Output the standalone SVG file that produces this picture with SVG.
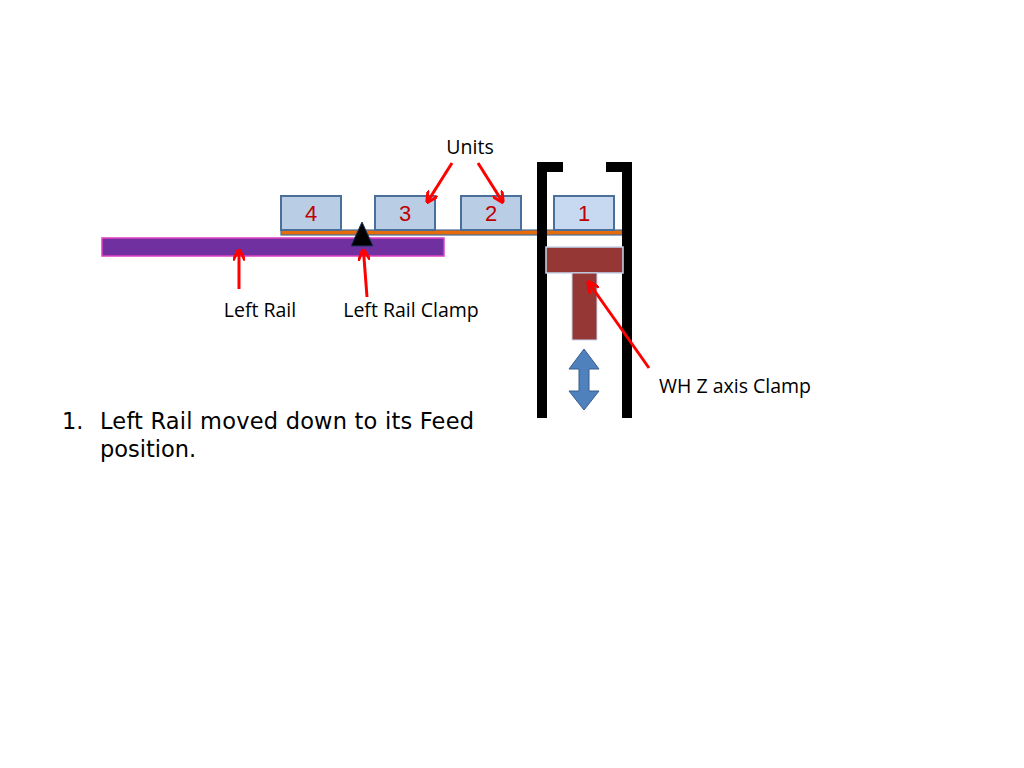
<svg xmlns="http://www.w3.org/2000/svg" width="1024" height="768" viewBox="0 0 1024 768">
<defs>
<style>
.lbl{font-family:"Open Sans","Liberation Sans",sans-serif;font-size:19.5px;fill:#000}
.num{font-family:"Liberation Sans",sans-serif;font-size:22px;fill:#c00000;text-anchor:middle}
.unit{fill:#b9cde5;stroke:#4a6f9a;stroke-width:2}
.red{stroke:#ff0000;stroke-width:3;fill:none;marker-end:url(#ah)}
.body{font-family:"DejaVu Sans",Verdana,sans-serif;font-size:22.5px;fill:#000}
</style>
<marker id="ah" viewBox="0 0 10 10" refX="8" refY="5" markerWidth="4" markerHeight="4" orient="auto" markerUnits="strokeWidth">
<path d="M0,0 L10,5 L0,10" fill="none" stroke="#ff0000" stroke-width="2.5"/>
</marker>
</defs>
<rect width="1024" height="768" fill="#fff"/>
<g id="left-rail"><rect x="102" y="238" width="342" height="18" fill="#7030a0" stroke="#e040c0" stroke-width="1.5"/></g>
<g id="carrier"><rect x="281" y="230" width="342" height="5" fill="#e46c0a" stroke="#4a6f9a" stroke-width="1.2"/></g>
<g id="unit4"><rect class="unit" x="281" y="196" width="60" height="34"/><text class="num" x="311" y="221">4</text></g>
<g id="unit3"><rect class="unit" x="375" y="196" width="60" height="34"/><text class="num" x="405" y="221">3</text></g>
<g id="unit2"><rect class="unit" x="461" y="196" width="60" height="34"/><text class="num" x="491" y="221">2</text></g>
<g id="unit1"><rect class="unit" x="554" y="196" width="60" height="34" style="fill:#c6d9f1"/><text class="num" x="584" y="221">1</text></g>
<g id="clamp-triangle"><polygon points="362,222 351,246 373,246" fill="#000" stroke="#1f3864" stroke-width="1"/></g>
<g id="bracket-left"><path d="M537,162 H563 V172 H547 V418 H537 Z" fill="#000"/></g>
<g id="bracket-right"><path d="M606,162 H632 V418 H622 V172 H606 Z" fill="#000"/></g>
<g id="wh-clamp">
<rect x="546" y="247" width="77" height="26" fill="#953735" stroke="#c6d9f1" stroke-width="1.5"/>
<rect x="572" y="273" width="25" height="67" fill="#953735" stroke="#c6d9f1" stroke-width="1"/>
</g>
<g id="updown-arrow"><polygon points="584,349 599,369 589,369 589,391 599,391 584,410 569,391 579,391 579,369 569,369" fill="#4f81bd" stroke="#385d8a" stroke-width="1"/></g>
<g id="connectors">
<line class="red" x1="452" y1="163" x2="428" y2="201"/>
<line class="red" x1="478" y1="163" x2="502" y2="201"/>
<line class="red" x1="239" y1="289" x2="239" y2="251"/>
<line class="red" x1="367" y1="297" x2="363.5" y2="251"/>
<line class="red" x1="649" y1="368" x2="589" y2="283"/>
</g>
<g id="labels">
<text class="lbl" x="470" y="154" text-anchor="middle">Units</text>
<text class="lbl" x="260" y="317" text-anchor="middle">Left Rail</text>
<text class="lbl" x="411" y="317" text-anchor="middle">Left Rail Clamp</text>
<text class="lbl" x="659" y="393">WH Z axis Clamp</text>
</g>
<g id="note">
<text class="body" x="62" y="429">1.</text>
<text class="body" x="100" y="429" textLength="374" lengthAdjust="spacing">Left Rail moved down to its Feed</text>
<text class="body" x="100" y="457">position.</text>
</g>
</svg>
